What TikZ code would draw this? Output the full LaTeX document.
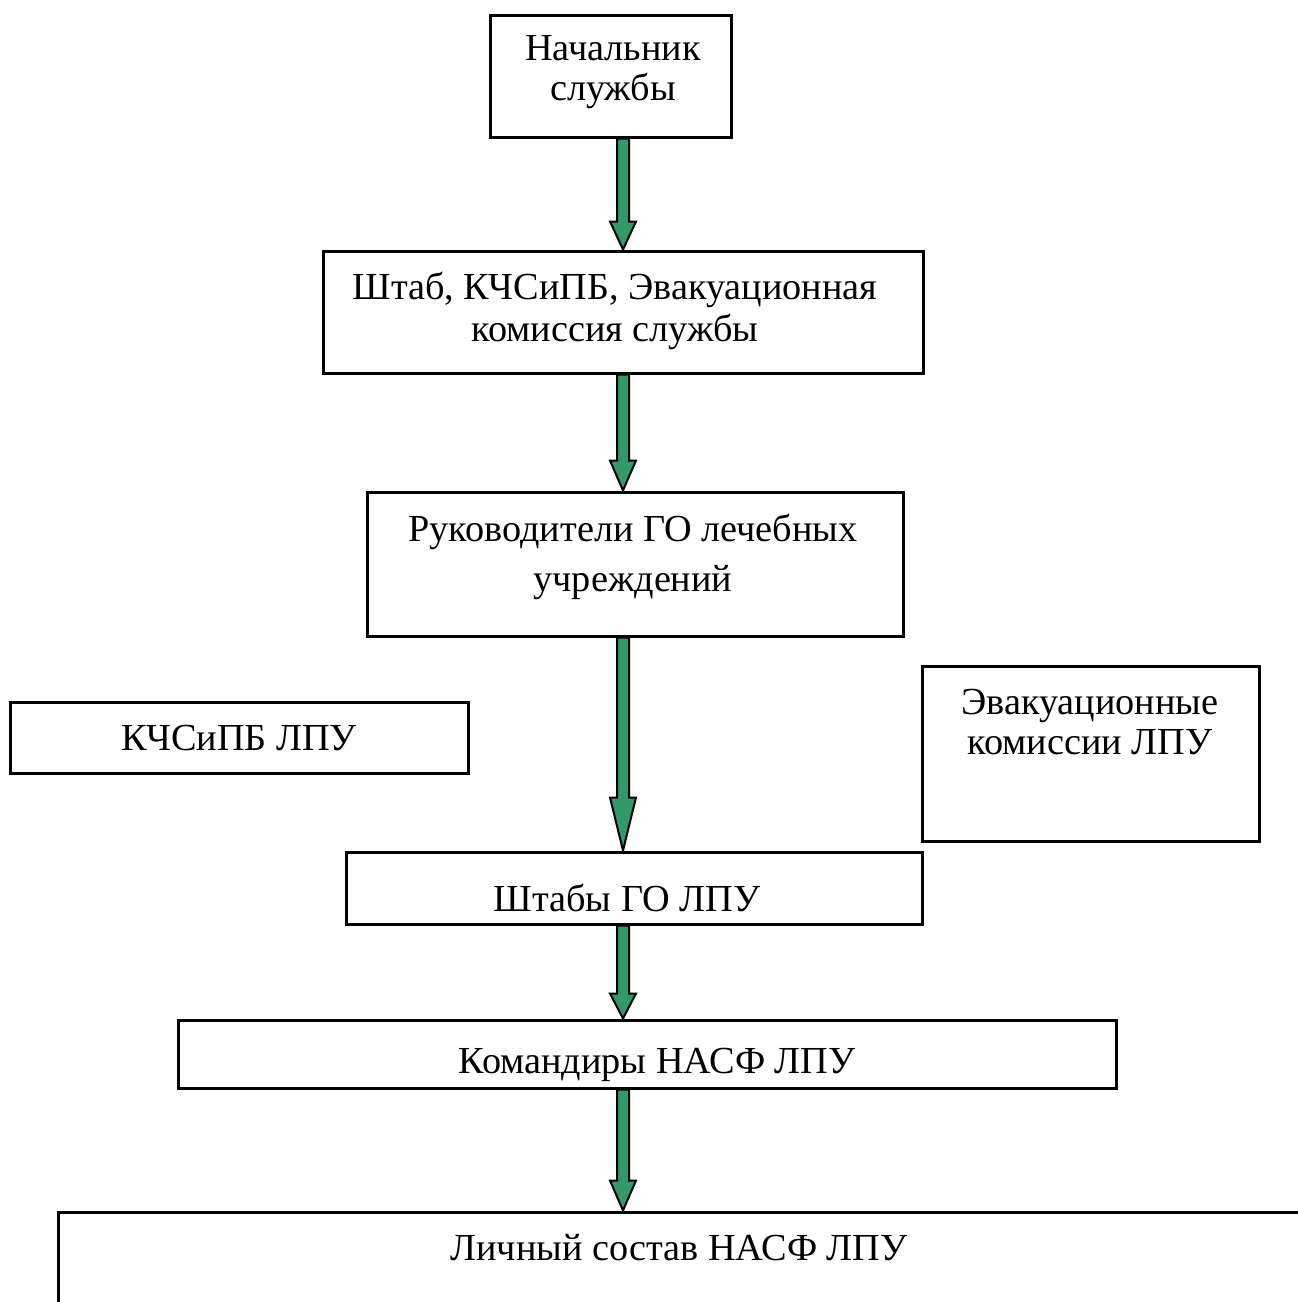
\documentclass[tikz,border=0pt]{standalone}
\usepackage{fontspec}
\setmainfont{Liberation Serif}
\usepackage{xcolor}
\usepackage{tikz}
\usetikzlibrary{fit,calc}
\definecolor{seagreen}{RGB}{51,153,102}

\begin{document}
\begin{tikzpicture}[x=0.4pt,y=-0.4pt,
  box/.style={draw,line width=1.2pt,inner sep=0pt},
  lbl/.style={align=center,inner sep=0pt,font=\fontsize{15.3}{16}\selectfont},
  garrow/.style={draw=black,fill=seagreen,line width=0.8pt}]
\useasboundingbox (0,0) rectangle (1298,1302);
\coordinate (ax) at (623,0);
\node[box,fit={(490,15) (731,137)}] (nach) {};
\node[lbl] (nach-t) at (613,72) {Начальник\\службы};
\node[box,fit={(323,251) (923,373)}] (shtab) {};
\node[lbl] (shtab-t) at (615,311) {Штаб, КЧСиПБ, Эвакуационная\\[0.8pt]комиссия службы};
\node[box,fit={(367,492) (903,636)}] (ruk) {};
\node[lbl] (ruk-t) at (633,557) {Руководители ГО лечебных\\[4pt]учреждений};
\node[box,fit={(10,702) (468,773)}] (kch) {};
\node[lbl] (kch-t) at (239,738) {КЧСиПБ ЛПУ};
\node[box,fit={(922,666) (1259,841)}] (evak) {};
\node[lbl] (evak-t) at (1090,722) {Эвакуационные\\комиссии ЛПУ};
\node[box,fit={(346,852) (922,924)}] (shtaby) {};
\node[lbl] (shtaby-t) at (627,898) {Штабы ГО ЛПУ};
\node[box,fit={(178,1020) (1116,1088)}] (kom) {};
\node[lbl] (kom-t) at (657,1065) {Командиры НАСФ ЛПУ};
\node[box,fit={(58,1212) (1400,1400)}] (lich) {};
\node[lbl] (lich-t) at (679,1248) {Личный состав НАСФ ЛПУ};
\foreach \a/\b/\h in {nach/shtab/28,shtab/ruk/30,ruk/shtaby/53,shtaby/kom/25,kom/lich/30}
  \draw[garrow] ($(\a.south -| ax)+(-6,0)$) -- ($(\b.north -| ax)+(-6,-\h)$) -- ++(-7,0)
    -- (\b.north -| ax) -- ($(\b.north -| ax)+(13,-\h)$) -- ++(-7,0)
    -- ($(\a.south -| ax)+(6,0)$) -- cycle;
\end{tikzpicture}
\end{document}
